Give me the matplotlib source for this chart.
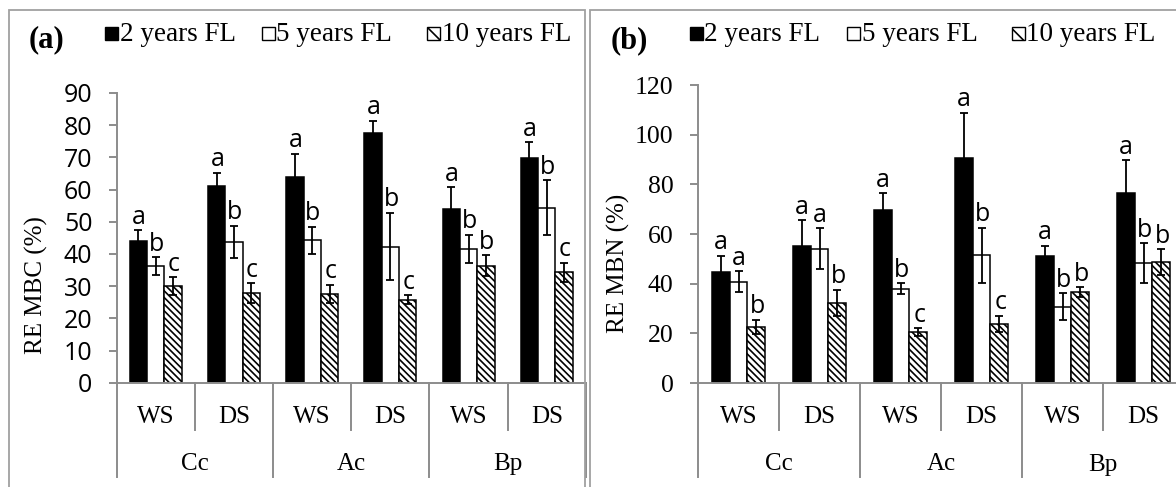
import matplotlib
matplotlib.use('Agg')
import matplotlib.pyplot as plt
from matplotlib.patches import Rectangle
from matplotlib.transforms import blended_transform_factory

# %%
# Data

sites = ['Cc', 'Ac', 'Bp']
seasons = ['WS', 'DS']
series = ['2 years FL', '5 years FL', '10 years FL']

# bar groups in order: Cc WS, Cc DS, Ac WS, Ac DS, Bp WS, Bp DS
mbc_2y = [44.1, 61.2, 64.0, 77.6, 53.9, 69.9]
mbc_5y = [36.2, 43.8, 44.3, 42.3, 41.6, 54.4]
mbc_10y = [30.1, 27.8, 27.6, 25.7, 36.3, 34.3]
mbc_2y_err = [3.3, 4.1, 7.2, 3.8, 6.9, 4.8]
mbc_5y_err = [2.8, 5.0, 4.2, 10.5, 4.4, 8.6]
mbc_10y_err = [2.7, 3.1, 2.9, 1.4, 3.3, 3.0]
mbc_letters = [['a', 'b', 'c'], ['a', 'b', 'c'], ['a', 'b', 'c'],
               ['a', 'b', 'c'], ['a', 'b', 'b'], ['a', 'b', 'c']]

mbn_2y = [44.7, 55.2, 69.7, 90.5, 51.1, 76.6]
mbn_5y = [40.7, 54.1, 38.0, 51.4, 30.7, 48.2]
mbn_10y = [22.7, 32.3, 20.5, 23.8, 36.5, 48.7]
mbn_2y_err = [6.6, 10.4, 6.7, 18.4, 4.2, 13.2]
mbn_5y_err = [4.2, 8.2, 2.2, 11.2, 5.5, 8.0]
mbn_10y_err = [2.8, 5.3, 1.6, 3.3, 2.0, 5.3]
mbn_letters = [['a', 'a', 'b'], ['a', 'a', 'b'], ['a', 'b', 'c'],
               ['a', 'b', 'c'], ['a', 'b', 'b'], ['a', 'b', 'b']]

# %%
# Styles

W, H = 1176, 487
GRAY = '#8c8c8c'
FRAME = '#a0a0a0'
SERIF = 'Liberation Serif'
SANS = 'Open Sans'
plt.rcParams['hatch.linewidth'] = 1.2

faces = ['black', 'white', 'white']
hatches = ['', '', '\\' * 5]
bar_w = 0.222
legend_offsets = [0, 157, 322]   # px from first legend square

fig = plt.figure(figsize=(W / 100, H / 100), dpi=100)


def fig_box(x0, y0, x1, y1):
    # pixel box (top-left origin) -> figure fraction [left, bottom, width, height]
    return [x0 / W, 1 - y1 / H, (x1 - x0) / W, (y1 - y0) / H]


def draw_panel(ax, vals, errs, letters, ymax, ystep, ylabel, tick_font, tick_size,
               label_xy, tag, tag_xy, legend_xy):
    n = len(vals[0])
    for k in range(3):
        xs = [i + 0.5 + (k - 1) * bar_w for i in range(n)]
        ax.bar(xs, vals[k], width=bar_w, color=faces[k], edgecolor='black',
               linewidth=1.1, hatch=hatches[k], zorder=2)
        ax.errorbar(xs, vals[k], yerr=errs[k], fmt='none', ecolor='black',
                    elinewidth=1.3, capsize=3.2, capthick=1.3, zorder=3)
        for i in range(n):
            ax.annotate(letters[i][k], (xs[i], vals[k][i] + errs[k][i]),
                        xytext=(0.5, 4.5), textcoords='offset points',
                        ha='center', va='baseline', fontsize=18,
                        family=SANS, zorder=4)

    ax.set_xlim(0, n)
    ax.set_ylim(0, ymax)
    ax.set_yticks(range(0, ymax + 1, ystep))
    ax.set_xticks([])
    for s in ['top', 'right']:
        ax.spines[s].set_visible(False)
    for s in ['left', 'bottom']:
        ax.spines[s].set_color(GRAY)
        ax.spines[s].set_linewidth(1.4)
    ax.tick_params(axis='y', length=6, width=1.4, color=GRAY, pad=11.5,
                   labelsize=tick_size)
    for t in ax.get_yticklabels():
        t.set_family(tick_font)

    ax.set_ylabel(ylabel, family=SERIF, fontsize=18, va='center')
    ax.yaxis.set_label_coords(*label_xy)

    # hierarchical category axis
    h_px = ax.get_position().height * H
    trans = blended_transform_factory(ax.transData, ax.transAxes)
    for b in range(n + 1):
        depth = 47 if b % 2 else 94
        ax.plot([b, b], [0, -depth / h_px], color=GRAY, lw=1.4,
                transform=trans, clip_on=False)
    for i in range(n):
        ax.annotate(seasons[i % 2], (i + 0.5, 0), xycoords=trans,
                    xytext=(0, -29), textcoords='offset points',
                    ha='center', va='baseline', fontsize=18, family=SERIF)
    for j, site in enumerate(sites):
        ax.annotate(site, (2 * j + 1, 0), xycoords=trans,
                    xytext=(0, -63), textcoords='offset points',
                    ha='center', va='baseline', fontsize=18, family=SERIF)

    fig.text(tag_xy[0] / W, 1 - tag_xy[1] / H, tag, family=SERIF,
             fontweight='bold', fontsize=22, ha='center', va='center')

    # legend: small square + label, like the Excel legend
    sq = 12.5
    for k, name in enumerate(series):
        x0 = legend_xy[0] + legend_offsets[k]
        y0 = legend_xy[1]
        fig.patches.append(Rectangle((x0 / W, 1 - (y0 + sq / 2) / H), sq / W, sq / H,
                                     transform=fig.transFigure,
                                     facecolor=faces[k], edgecolor='black',
                                     linewidth=1.0,
                                     hatch='\\' * 2 if hatches[k] else ''))
        fig.text((x0 + sq + 2) / W, 1 - (y0 + 7.5) / H, name, family=SERIF,
                 fontsize=19.5, ha='left', va='baseline')


# panel frames
fig.patches.append(Rectangle((9 / W, -0.05), (585 - 9) / W, 1.05 - 10 / H,
                             transform=fig.transFigure, fill=False,
                             edgecolor=FRAME, linewidth=1.3))
fig.patches.append(Rectangle((590 / W, -0.05), 0.6, 1.05 - 10 / H,
                             transform=fig.transFigure, fill=False,
                             edgecolor=FRAME, linewidth=1.3))

ax1 = fig.add_axes(fig_box(116.7, 93, 585.9, 382.7))
draw_panel(ax1, [mbc_2y, mbc_5y, mbc_10y], [mbc_2y_err, mbc_5y_err, mbc_10y_err],
           mbc_letters, 90, 10, 'RE MBC (%)', SANS, 18,
           (-0.171, 0.337), '(a)', (46.5, 40), (105, 33.5))

ax2 = fig.add_axes(fig_box(698, 85, 1184, 383))
draw_panel(ax2, [mbn_2y, mbn_5y, mbn_10y], [mbn_2y_err, mbn_5y_err, mbn_10y_err],
           mbn_letters, 120, 20, 'RE MBN (%)', SERIF, 18.5,
           (-0.163, 0.401), '(b)', (629, 40.5), (690, 33.5))

fig.savefig('out.png', dpi=100)
